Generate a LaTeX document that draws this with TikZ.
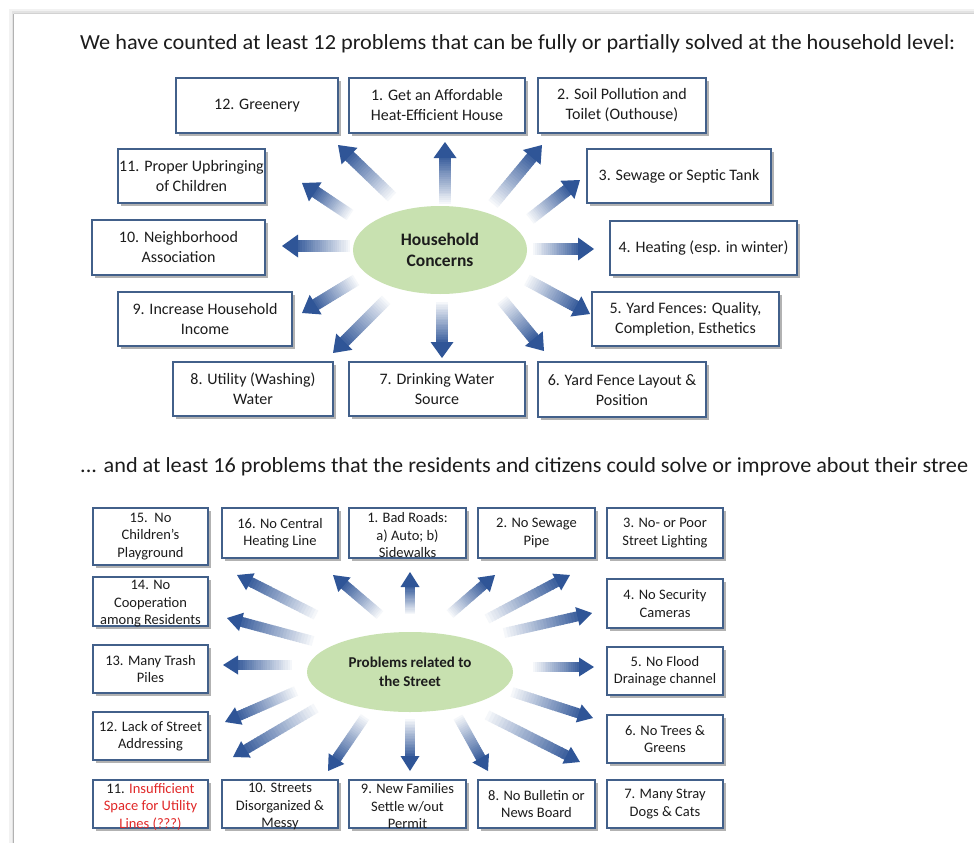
\documentclass[tikz,border=0pt]{standalone}
\usepackage{fontspec}
\setmainfont{Carlito}
\usetikzlibrary{calc,shapes.geometric,shadows}

\definecolor{arrowblue}{RGB}{47,85,151}
\definecolor{boxline}{RGB}{66,96,138}
\definecolor{ellgreen}{RGB}{200,225,176}
\definecolor{inkgray}{RGB}{28,28,28}
\definecolor{alertred}{RGB}{225,40,40}

\newcommand\headfont{\fontsize{21.5}{25}\selectfont}
\newcommand\topfont{\fontsize{16}{20}\selectfont}
\newcommand\botfont{\fontsize{14.5}{17.5}\selectfont}

\tikzset{
  boxshape/.style={rectangle, draw=boxline, line width=1.3pt, fill=white, inner sep=0pt,
    drop shadow={shadow xshift=2.5pt, shadow yshift=-2.5pt, fill=black, opacity=0.3}},
  topbox/.style={inner sep=0pt, align=center, text=inkgray, font=\topfont},
  botbox/.style={inner sep=0pt, align=center, text=inkgray, font=\botfont},
  botboxlow/.style={botbox, yshift=-2.5pt},
  hub/.style={ellipse, fill=ellgreen, inner sep=0pt, align=center, text=inkgray},
  headline/.style={inner sep=0pt, text=inkgray, font=\headfont},
}

% framed problem box: [text style]{name}{centre}{width}{height}{text}
\newcommand\pbox[6][topbox]{%
  \node[boxshape, minimum width=#4, minimum height=#5] (#2) at (#3) {};%
  \node[#1] (#2-t) at (#2.center) {#6};}

% arrow shades from pale at the tail to solid blue at the head
\newcommand\shaftw{6}
\newcommand\headw{11.5}
\newcommand\headlen{16}
\newcommand\gradarrow[2]{%
  \path let \p1=(#1), \p2=(#2) in \pgfextra{%
    \pgfmathsetmacro\garangtmp{atan2((\y2)-(\y1),(\x2)-(\x1))}%
    \pgfmathsetmacro\garlentmp{veclen((\x2)-(\x1),(\y2)-(\y1))}%
    \xdef\garang{\garangtmp}\xdef\garlen{\garlentmp}%
    \xdef\garx{\x1}\xdef\gary{\y1}};
  \begin{scope}[shift={(\garx,\gary)}, rotate=\garang]
    \pgfmathsetmacro\garshaft{\garlen-\headlen}
    \foreach \i in {0,...,23} {
      \pgfmathsetmacro\ga{\i/24*\garshaft}
      \pgfmathsetmacro\gb{(\i+1)/24*\garshaft+0.8}
      \pgfmathtruncatemacro\gc{2+(\i+1)/24*90}
      \fill[arrowblue!\gc!white] (\ga,-\shaftw) rectangle (\gb,\shaftw);
    }
    \fill[arrowblue] (\garshaft,-\headw) -- (\garlen,0) -- (\garshaft,\headw) -- cycle;
  \end{scope}}

\newlength\titlewa
\newlength\titlewb

\begin{document}
\settowidth\titlewa{\headfont We have counted at least 12 problems that can be fully or partially solved at the household level:}
\settowidth\titlewb{\headfont ... and at least 16 problems that the residents and citizens could solve or improve about their stree}
\pgfmathsetmacro\tsxa{875pt/\titlewa}
\pgfmathsetmacro\tsxb{888pt/\titlewb}
\begin{tikzpicture}[x=1pt,y=-1pt]
\useasboundingbox (0,0) rectangle (974,843);
\fill[white] (0,0) rectangle (974,843);

% sheet with its soft edge
\fill[gray!10] (9,9) rectangle (974,843);
\fill[gray!22] (11.5,11.5) rectangle (974,843);
\fill[white] (14,14) rectangle (974,843);
\draw[gray!60, line width=1.2pt] (13.6,843) -- (13.6,13.6);
\draw[gray!35, line width=0.8pt] (13.6,13.6) -- (974,13.6);

% headings
\node[headline, anchor=base west] (title1) at (80,49)
  {\scalebox{\tsxa}[1]{We have counted at least 12 problems that can be fully or partially solved at the household level:}};
\node[headline, anchor=base west] (title2) at (80,472)
  {\scalebox{\tsxb}[1]{... and at least 16 problems that the residents and citizens could solve or improve about their stree}};

% ---------------- household concerns ----------------
\node[hub, minimum width=174, minimum height=88, font=\fontsize{17.5}{21}\selectfont\bfseries] (hc) at (440,250) {Household\\Concerns};

\pbox{h12}{257,105.5}{162}{55}{12. Greenery}
\pbox{h1}{437,105.5}{176}{55}{1. Get an Affordable\\Heat-Efficient House}
\pbox{h2}{622,105.5}{168}{55}{2. Soil Pollution and\\Toilet (Outhouse)}
\pbox{h11}{191.5,176}{147}{54}{11. Proper Upbringing\\of Children}
\pbox{h3}{679,176}{184}{54}{3. Sewage or Septic Tank}
\pbox{h10}{178.5,247.5}{173}{55}{10. Neighborhood\\Association}
\pbox{h4}{703.5,248}{187}{54}{4. Heating (esp. in winter)}
\pbox{h9}{205,319}{174}{54}{9. Increase Household\\Income}
\pbox{h5}{685.5,319}{187}{54}{5. Yard Fences: Quality,\\Completion, Esthetics}
\pbox{h8}{253,389}{160}{54}{8. Utility (Washing)\\Water}
\pbox{h7}{437,389}{176}{54}{7. Drinking Water\\Source}
\pbox{h6}{622,389.5}{168}{55}{6. Yard Fence Layout \&\\Position}

\coordinate (ht12) at (392,197); \coordinate (hh12) at (338,145);
\coordinate (ht1)  at (445,204); \coordinate (hh1)  at (445,142);
\coordinate (ht2)  at (493,204); \coordinate (hh2)  at (542,145);
\coordinate (ht11) at (350,215); \coordinate (hh11) at (302,183);
\coordinate (ht3)  at (530,219); \coordinate (hh3)  at (580,180);
\coordinate (ht10) at (350,246); \coordinate (hh10) at (282,246);
\coordinate (ht4)  at (533,249); \coordinate (hh4)  at (594,249);
\coordinate (ht9)  at (356,280); \coordinate (hh9)  at (302,313);
\coordinate (ht5)  at (527,280); \coordinate (hh5)  at (590,314);
\coordinate (ht8)  at (386,300); \coordinate (hh8)  at (333,353);
\coordinate (ht7)  at (442,302); \coordinate (hh7)  at (442,358);
\coordinate (ht6)  at (502,300); \coordinate (hh6)  at (544,351);
\foreach \k in {12,1,2,11,3,10,4,9,5,8,7,6} {\gradarrow{ht\k}{hh\k}}

% ---------------- street problems ----------------
\node[hub, minimum width=206, minimum height=80, font=\fontsize{15}{19}\selectfont\bfseries] (sc) at (410,672) {Problems related to\\the Street};

\pbox[botbox]{s15}{150.5,536.5}{115}{57}{15.\ \ No\\Children’s\\Playground}
\pbox[botbox]{s16}{280,533}{116}{50}{16. No Central\\Heating Line}
\pbox[botboxlow]{s1}{407.5,533}{117}{50}{1. Bad Roads:\\a) Auto; b)\\Sidewalks}
\pbox[botbox]{s2}{536.5,533}{117}{50}{2. No Sewage\\Pipe}
\pbox[botbox]{s3}{665,533}{116}{50}{3. No- or Poor\\Street Lighting}
\pbox[botboxlow]{s14}{150.5,601.5}{115}{49}{14. No\\Cooperation\\among Residents}
\pbox[botbox]{s4}{665,603.5}{116}{49}{4. No Security\\Cameras}
\pbox[botbox]{s13}{150.5,669}{115}{48}{13. Many Trash\\Piles}
\pbox[botbox]{s5}{665,671}{116}{48}{5. No Flood\\Drainage channel}
\pbox[botbox]{s12}{150.5,736}{115}{48}{12. Lack of Street\\Addressing}
\pbox[botbox]{s6}{665,739}{116}{48}{6. No Trees \&\\Greens}
\pbox[botboxlow]{s11}{150.5,804}{115}{48}{11. \textcolor{alertred}{Insufficient}\\\textcolor{alertred}{Space for Utility}\\\textcolor{alertred}{Lines (???)}}
\pbox[botboxlow]{s10}{280,804}{116}{48}{10. Streets\\Disorganized \&\\Messy}
\pbox[botboxlow]{s9}{407.5,804}{117}{48}{9. New Families\\Settle w/out\\Permit}
\pbox[botbox]{s8}{536.5,804}{117}{48}{8. No Bulletin or\\News Board}
\pbox[botbox]{s7}{665,804}{116}{48}{7. Many Stray\\Dogs \& Cats}

\renewcommand\shaftw{5}
\renewcommand\headw{9.5}
\renewcommand\headlen{15}
\coordinate (st15) at (316,615); \coordinate (sh15) at (237,575);
\coordinate (st16) at (380,615); \coordinate (sh16) at (333,575);
\coordinate (st1)  at (410,614); \coordinate (sh1)  at (410,572);
\coordinate (st2)  at (450,614); \coordinate (sh2)  at (495,575);
\coordinate (st3)  at (487,619); \coordinate (sh3)  at (570,575);
\coordinate (st14) at (313,641); \coordinate (sh14) at (227,618);
\coordinate (st4)  at (504,633); \coordinate (sh4)  at (592,613);
\coordinate (st13) at (292,665); \coordinate (sh13) at (223,665);
\coordinate (st5)  at (533,667); \coordinate (sh5)  at (594,667);
\coordinate (st12) at (296,691); \coordinate (sh12) at (225,722);
\coordinate (st6)  at (512,692); \coordinate (sh6)  at (593,718);
\coordinate (st11) at (316,708); \coordinate (sh11) at (233,757);
\coordinate (st7)  at (487,715); \coordinate (sh7)  at (580,762);
\coordinate (st10) at (365,717); \coordinate (sh10) at (328,771);
\coordinate (st9)  at (410,719); \coordinate (sh9)  at (410,771);
\coordinate (st8)  at (458,717); \coordinate (sh8)  at (488,771);
\foreach \k in {15,16,1,2,3,14,4,13,5,12,6,11,7,10,9,8} {\gradarrow{st\k}{sh\k}}
\end{tikzpicture}
\end{document}
